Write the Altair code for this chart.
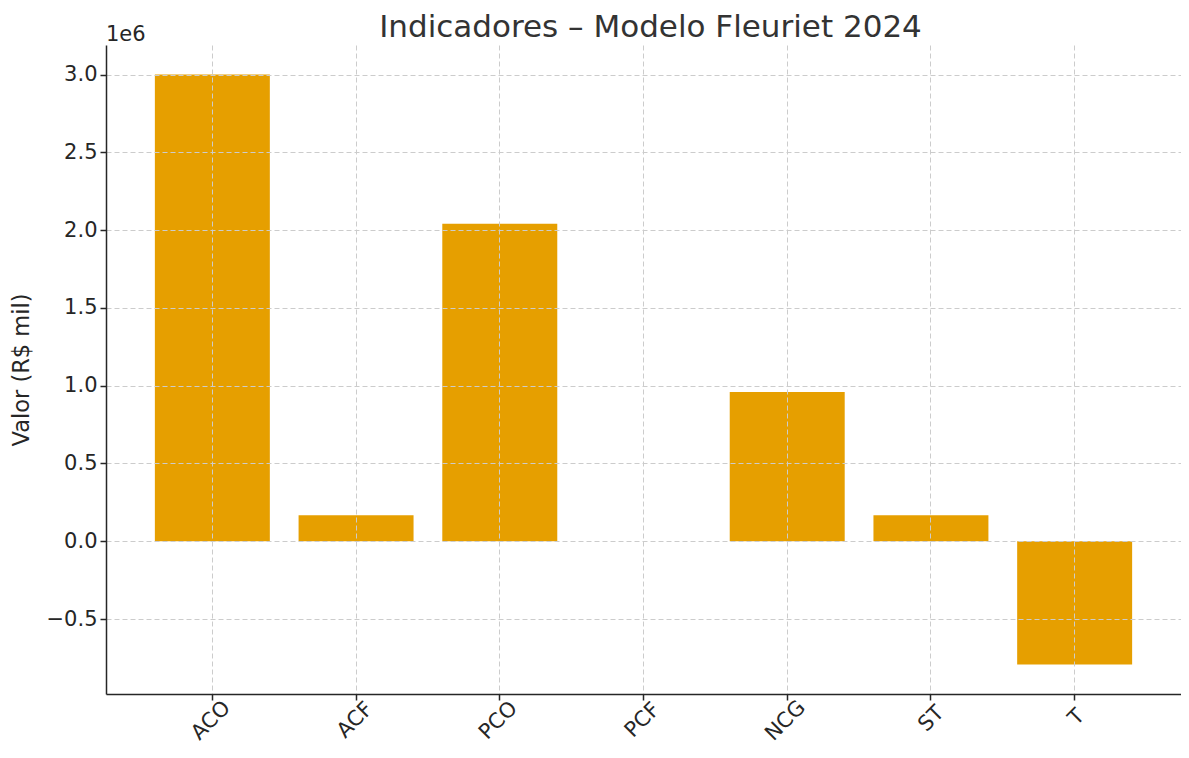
import altair as alt
import pandas as pd

categories = ["ACO", "ACF", "PCO", "PCF", "NCG", "ST", "T"]
values = [3000000, 167000, 2041000, 0, 959000, 167000, -792000]
y_ticks = [-500000, 0, 500000, 1000000, 1500000, 2000000, 2500000, 3000000]

FONT = "DejaVu Sans"
W, H = 1075, 649
FS = 21

# approximate advance widths (em) of DejaVu Sans for centring rotated labels
glyph_w = {"A": 0.684, "C": 0.698, "O": 0.787, "F": 0.575, "P": 0.603,
           "N": 0.748, "G": 0.775, "S": 0.635, "T": 0.611}
offsets = [0.3535 * sum(glyph_w[c] for c in cat) * FS - 0.297 * FS for cat in categories]

df = pd.DataFrame({"cat": categories, "val": values, "off": offsets})

grid_kw = dict(grid=True, gridColor="#cccccc", gridDash=[5, 3], gridWidth=1, zindex=1)
line_kw = dict(tickColor="#262626", tickWidth=1.5, tickSize=6,
               domainColor="#262626", domainWidth=1.5)

xscale = alt.Scale(paddingInner=0.2, paddingOuter=0.34)

bars = alt.Chart(df).mark_bar(color="#E69F00").encode(
    x=alt.X(
        "cat:N",
        sort=categories,
        scale=xscale,
        axis=alt.Axis(title=None, labels=False, **line_kw, **grid_kw),
    ),
    y=alt.Y(
        "val:Q",
        scale=alt.Scale(domain=[-982000, 3190000], nice=False, zero=False),
        axis=alt.Axis(
            title="Valor (R$ mil)",
            titleFont=FONT,
            titleFontSize=22.5,
            titleFontWeight="normal",
            titleColor="#262626",
            titlePadding=13,
            values=y_ticks,
            labelExpr="format(datum.value / 1000000, '.1f')",
            labelFontSize=FS,
            labelFont=FONT,
            labelColor="#262626",
            labelPadding=3,
            **line_kw,
            **grid_kw,
        ),
    ),
)

xlabels = alt.Chart(df).mark_text(
    angle=315,
    align="right",
    baseline="top",
    fontSize=FS,
    font=FONT,
    color="#262626",
    dx=alt.ExprRef("datum.off"),
).encode(
    x=alt.X("cat:N", sort=categories, scale=xscale),
    y=alt.value(H + 10),
    text="cat:N",
)

exp_text = alt.Chart(pd.DataFrame({"t": ["1e6"]})).mark_text(
    align="left", baseline="alphabetic", fontSize=FS, font=FONT, color="#262626"
).encode(x=alt.value(0), y=alt.value(-4), text="t:N")

title_text = alt.Chart(pd.DataFrame({"t": ["Indicadores – Modelo Fleuriet 2024"]})).mark_text(
    align="center", baseline="alphabetic", fontSize=31, font=FONT, color="#333333"
).encode(x=alt.value(W / 2 + 7), y=alt.value(-8), text="t:N")

chart = alt.layer(bars, xlabels, exp_text, title_text).properties(
    width=W,
    height=H,
    autosize="none",
    padding={"left": 98, "top": 37, "right": 0, "bottom": 50},
).configure_view(stroke=None)

chart.save("out.html", embed_options={"renderer": "svg", "actions": False})
